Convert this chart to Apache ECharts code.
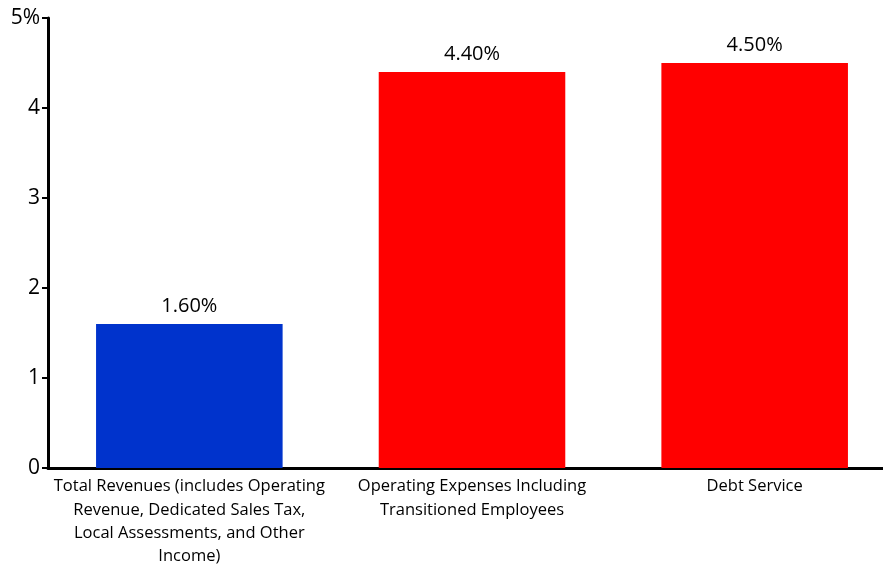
<!DOCTYPE html>
<html><head><meta charset="utf-8">
<script src="https://cdn.jsdelivr.net/npm/echarts@6/dist/echarts.min.js"></script>
<style>html,body{margin:0;padding:0;background:#fff;overflow:hidden;width:883px;height:566px}#c{width:900px;height:566px}</style>
</head><body><div id="c"></div>
<script>
const categories = [
  "Total Revenues (includes Operating\nRevenue, Dedicated Sales Tax,\nLocal Assessments, and Other\nIncome)",
  "Operating Expenses Including\nTransitioned Employees",
  "Debt Service"
];
const values = [1.6, 4.4, 4.5];
const barColors = ["#0033CC", "#FF0000", "#FF0000"];
const yTicks = [0, 1, 2, 3, 4, 5];

const chart = echarts.init(document.getElementById('c'));
chart.setOption({
  animation: false,
  grid: {left: 48, right: 4, top: 18, bottom: 98, containLabel: false, outerBoundsMode: 'none'},
  xAxis: {
    type: 'category', data: categories,
    axisLine: {lineStyle: {color: '#000', width: 3}},
    axisTick: {show: false},
    axisLabel: {color: '#000', fontFamily: 'Open Sans', fontSize: 16.5, lineHeight: 23.3, interval: 0, margin: 7}
  },
  yAxis: {
    type: 'value', min: 0, max: 5, interval: 1,
    splitLine: {show: false},
    axisLine: {show: true, lineStyle: {color: '#000', width: 3}},
    axisTick: {show: true, length: 6, lineStyle: {color: '#000', width: 2}},
    axisLabel: {color: '#000', fontFamily: 'Open Sans', fontSize: 21, margin: 8,
      formatter: v => v === yTicks[yTicks.length-1] ? v + '%' : String(v)}
  },
  series: [{
    type: 'bar',
    data: values.map((v, i) => ({value: v, itemStyle: {color: barColors[i]}})),
    barWidth: '66%',
    label: {show: true, position: 'top', distance: 8, color: '#000', fontFamily: 'Open Sans', fontSize: 20,
      formatter: p => p.value.toFixed(2) + '%'}
  }]
});
</script></body></html>
